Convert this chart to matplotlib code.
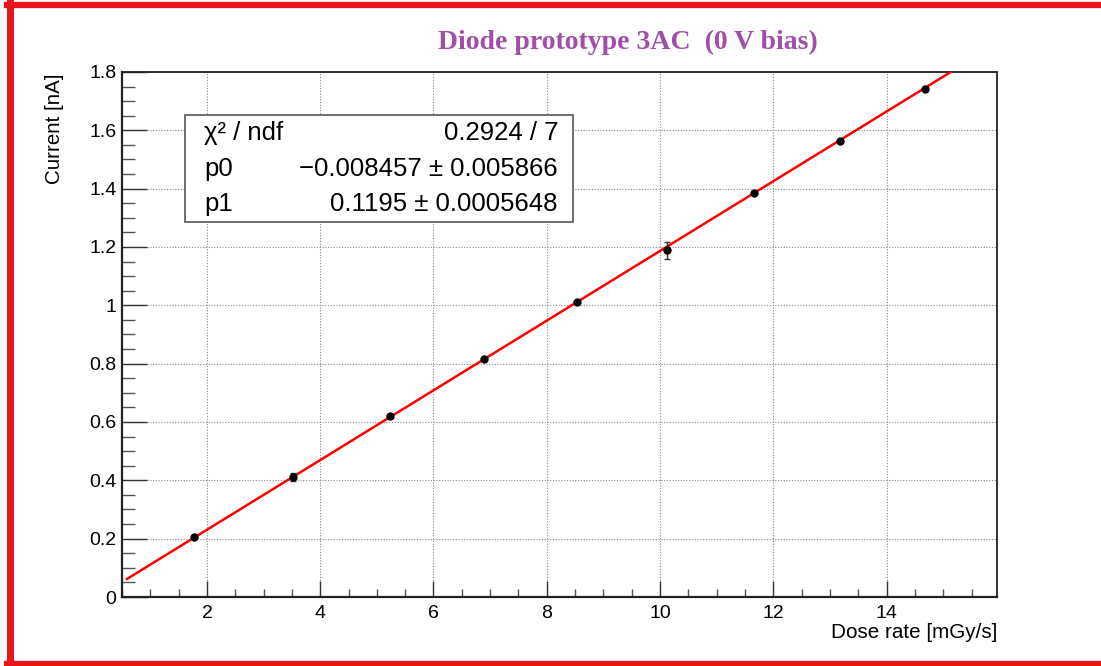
import matplotlib
matplotlib.use("Agg")
import matplotlib.pyplot as plt
import numpy as np
from matplotlib.ticker import MultipleLocator
from matplotlib.patches import Rectangle
from matplotlib.lines import Line2D

# ---- data ----
dose_rate = [1.77, 3.52, 5.23, 6.89, 8.54, 10.13, 11.66, 13.18, 14.67]
current = [0.206, 0.411, 0.620, 0.816, 1.011, 1.188, 1.385, 1.563, 1.742]
current_err = [0.004, 0.014, 0.005, 0.005, 0.004, 0.030, 0.005, 0.005, 0.004]
fit_p0 = -0.008457
fit_p1 = 0.1195
fit_range = [0.59, 15.3]
y_ticks = [0, 0.2, 0.4, 0.6, 0.8, 1.0, 1.2, 1.4, 1.6, 1.8]
y_tick_labels = ["0", "0.2", "0.4", "0.6", "0.8", "1", "1.2", "1.4", "1.6", "1.8"]
x_ticks = [2, 4, 6, 8, 10, 12, 14]
x_tick_labels = ["2", "4", "6", "8", "10", "12", "14"]
stat_rows = [("χ² / ndf", "0.2924 / 7"),
             ("p0", "\u22120.008457 \u00b1 0.005866"),
             ("p1", "0.1195 \u00b1 0.0005648")]

W, H = 1101, 666
fig = plt.figure(figsize=(W / 100, H / 100), dpi=100)
fig.patch.set_facecolor("white")

def fx(px):
    return px / W

def fy(py):
    return 1 - py / H

ax_l, ax_r, ax_t, ax_b = 122, 997, 72, 597
ax = fig.add_axes([fx(ax_l), fy(ax_b), (ax_r - ax_l) / W, (ax_b - ax_t) / H])

ax.set_xlim(0.5, 15.95)
ax.set_ylim(0, 1.8)

ax.set_xticks(x_ticks)
ax.set_yticks(y_ticks)
ax.set_xticklabels(x_tick_labels)
ax.set_yticklabels(y_tick_labels)
ax.xaxis.set_minor_locator(MultipleLocator(0.5))
ax.yaxis.set_minor_locator(MultipleLocator(0.05))
ax.grid(True, which="major", color="#888888", linestyle=(0, (1, 1.5)), linewidth=0.8)
ax.set_axisbelow(True)

for lab in ax.get_xticklabels() + ax.get_yticklabels():
    lab.set_fontfamily("Liberation Sans")
    lab.set_fontsize(14)

ax.tick_params(axis="y", which="major", direction="in", length=18, width=1.0, color="#333333", pad=4)
ax.tick_params(axis="y", which="minor", direction="in", length=9.2, width=1.0, color="#555555")
ax.tick_params(axis="x", which="major", direction="in", length=11.5, width=1.0, color="#333333", pad=6)
ax.tick_params(axis="x", which="minor", direction="in", length=5.5, width=1.0, color="#555555")
ax.tick_params(top=False, right=False, which="both")

for s in ax.spines.values():
    s.set_color("#222222")
    s.set_linewidth(1.3)
ax.spines["left"].set_linewidth(1.6)
ax.spines["bottom"].set_linewidth(1.6)

# fit line
xf = np.linspace(fit_range[0], fit_range[1], 300)
yf = fit_p0 + fit_p1 * xf
ax.plot(xf, yf, color="#ff0000", linewidth=1.8, zorder=3, clip_on=True)

# data points
ax.errorbar(dose_rate, current, yerr=current_err, fmt="o", color="black",
            ecolor="#333333", markersize=5, elinewidth=1.0, capsize=2.5, capthick=1.0, zorder=4)

# stats box
bx_l, bx_r, bx_t, bx_b = 185, 573, 115, 222
fig.patches.append(Rectangle((fx(bx_l), fy(bx_b)), (bx_r - bx_l) / W, (bx_b - bx_t) / H,
                             transform=fig.transFigure, facecolor="white",
                             edgecolor="#555555", linewidth=1.2, zorder=10))
row_y = [133, 169, 204]
for (k, v), ry in zip(stat_rows, row_y):
    fig.text(fx(204), fy(ry), k, ha="left", va="center", fontsize=18.5,
             family="Liberation Sans", zorder=11)
    fig.text(fx(558), fy(ry), v, ha="right", va="center", fontsize=18.5,
             family="Liberation Sans", zorder=11)

# title
fig.text(fx(628), fy(42), "Diode prototype 3AC  (0 V bias)", ha="center", va="center",
         fontsize=20, fontweight="bold", family="Liberation Serif", color="#A04EA8")

# axis labels
fig.text(fx(55), fy(73), "Current [nA]", rotation=90, ha="center", va="top",
         fontsize=14.8, family="Liberation Sans")
fig.text(fx(997), fy(632), "Dose rate [mGy/s]", ha="right", va="center",
         fontsize=14.9, family="Liberation Sans")

# red border
red = "#e8141a"
fig.lines.append(Line2D([fx(10), fx(10)], [fy(2), fy(666)], transform=fig.transFigure,
                        color=red, linewidth=5))
fig.lines.append(Line2D([fx(7), fx(1101)], [fy(5), fy(5)], transform=fig.transFigure,
                        color=red, linewidth=4.5))
fig.lines.append(Line2D([fx(7), fx(1101)], [fy(664), fy(664)], transform=fig.transFigure,
                        color=red, linewidth=4.5))

fig.savefig("out.png", dpi=100)
